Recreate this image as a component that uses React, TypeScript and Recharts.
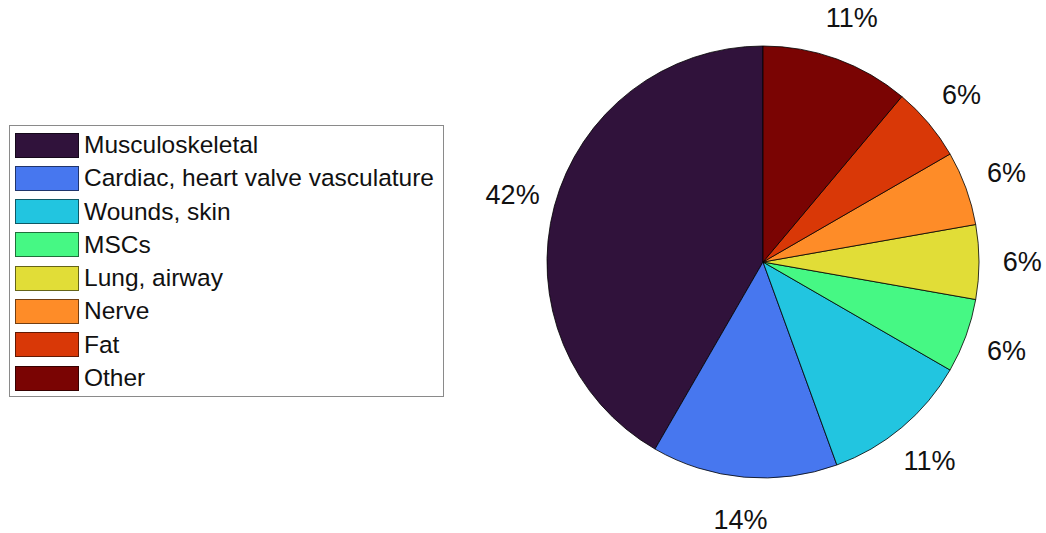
import { PieChart, Pie, Cell, Legend } from 'recharts'

const FONT = '"Liberation Sans", Arial, Helvetica, sans-serif'

// tissue categories, in drawing order (counter-clockwise from 12 o'clock)
const categories = [
  'Musculoskeletal',
  'Cardiac, heart valve vasculature',
  'Wounds, skin',
  'MSCs',
  'Lung, airway',
  'Nerve',
  'Fat',
  'Other',
]

// number of studies per category
const counts = [15, 5, 4, 2, 2, 2, 2, 4]

// turbo colormap, 8 steps
const COLORS = [
  '#30123b', '#4777ef', '#22c5e0', '#46f884',
  '#e1dd37', '#fe8c28', '#d93807', '#7a0403',
]

const data = categories.map((name, i) => ({ name, value: counts[i] }))

const RADIAN = Math.PI / 180

function renderPercent(props: any) {
  const { cx, cy, midAngle, outerRadius, percent } = props
  const r = outerRadius * 1.2
  const x = cx + r * Math.cos(-midAngle * RADIAN)
  const y = cy + r * Math.sin(-midAngle * RADIAN)
  return (
    <text
      x={x}
      y={y}
      textAnchor="middle"
      dominantBaseline="central"
      fill="#111"
      fontSize={27}
      fontFamily={FONT}
    >
      {`${Math.round(percent * 100)}%`}
    </text>
  )
}

function LegendBox({ payload }: any) {
  // keep the legend in data order rather than alphabetical
  const items = [...(payload || [])].sort(
    (a: any, b: any) => categories.indexOf(a.value) - categories.indexOf(b.value),
  )
  return (
    <div
      style={{
        boxSizing: 'border-box',
        width: 435,
        height: 272,
        border: '1px solid #8a8a8a',
        background: '#fff',
        padding: '7px 0 0 5px',
        fontFamily: FONT,
      }}
    >
      {items.map((item: any) => (
        <div
          key={item.value}
          style={{ display: 'flex', alignItems: 'center', height: 24, marginBottom: 9.3 }}
        >
          <span
            style={{
              boxSizing: 'border-box',
              width: 64,
              height: 25,
              background: item.color,
              border: '1px solid rgba(0,0,0,0.55)',
              marginRight: 5,
            }}
          />
          <span style={{ fontSize: 24.5, lineHeight: '24px', color: '#111' }}>{item.value}</span>
        </div>
      ))}
    </div>
  )
}

export default function App() {
  return (
    <div style={{ position: 'absolute', left: 0, top: 0, width: 1046, height: 533, background: '#fff' }}>
      <PieChart width={1046} height={533} margin={{ top: 0, right: 0, bottom: 0, left: 0 }}>
        <Pie
          data={data}
          dataKey="value"
          nameKey="name"
          cx={763}
          cy={262}
          outerRadius={216}
          startAngle={90}
          endAngle={450}
          stroke="#000"
          strokeWidth={0.8}
          label={renderPercent}
          labelLine={false}
          isAnimationActive={false}
        >
          {data.map((d, i) => (
            <Cell key={d.name} fill={COLORS[i]} />
          ))}
        </Pie>
        <Legend
          content={<LegendBox />}
          wrapperStyle={{ position: 'absolute', left: 9, top: 125, width: 435, height: 272 }}
        />
      </PieChart>
    </div>
  )
}
